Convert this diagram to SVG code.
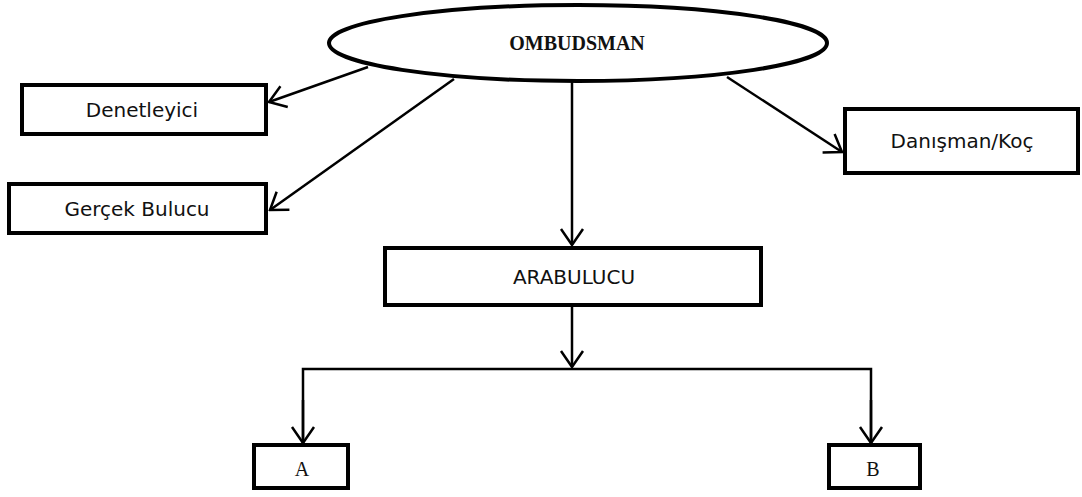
<svg xmlns="http://www.w3.org/2000/svg" width="1082" height="497" viewBox="0 0 1082 497">
<style>
.box{fill:#fff;stroke:#000;stroke-width:4}
.lbl{font-family:"DejaVu Sans",Verdana,sans-serif;font-size:20px;fill:#111;text-anchor:middle}
.ser{font-family:"Liberation Serif","Times New Roman",serif;font-size:20px;fill:#111;text-anchor:middle}
.con{fill:none;stroke:#000;stroke-width:2.5}
</style>
<defs>
<marker id="ah" markerUnits="userSpaceOnUse" viewBox="-2 -2 20 26" refX="16" refY="11" markerWidth="20" markerHeight="26" orient="auto">
<path d="M0,0 L16,11 L0,22" fill="none" stroke="#000" stroke-width="2.5"/>
</marker>
</defs>
<g id="connectors">
<line class="con" x1="368" y1="67" x2="269" y2="102" marker-end="url(#ah)"/>
<line class="con" x1="454" y1="79" x2="270" y2="210" marker-end="url(#ah)"/>
<line class="con" x1="727" y1="77" x2="842" y2="152" marker-end="url(#ah)"/>
<line class="con" x1="572" y1="82" x2="572" y2="245" marker-end="url(#ah)"/>
<line class="con" x1="572" y1="307" x2="572" y2="367" marker-end="url(#ah)"/>
<polyline class="con" points="303,443 303,369 871,369 871,443" fill="none"/>
<line class="con" x1="303" y1="400" x2="303" y2="443" marker-end="url(#ah)"/>
<line class="con" x1="871" y1="400" x2="871" y2="443" marker-end="url(#ah)"/>
</g>
<g id="ombudsman">
<ellipse class="box" cx="578" cy="43" rx="249" ry="38"/>
<text class="ser" x="577" y="50" font-weight="bold" style="font-size:20px">OMBUDSMAN</text>
</g>
<g id="denetleyici">
<rect class="box" x="22" y="85" width="244" height="49"/>
<text class="lbl" x="142" y="117">Denetleyici</text>
</g>
<g id="gercek-bulucu">
<rect class="box" x="9" y="184" width="257" height="49"/>
<text class="lbl" x="137" y="216">Gerçek Bulucu</text>
</g>
<g id="danisman">
<rect class="box" x="845" y="109" width="233" height="64"/>
<text class="lbl" x="962" y="148">Danışman/Koç</text>
</g>
<g id="arabulucu">
<rect class="box" x="385" y="248" width="376" height="57"/>
<text class="lbl" x="574" y="284">ARABULUCU</text>
</g>
<g id="a">
<rect class="box" x="254" y="445" width="94" height="43"/>
<text class="ser" x="302" y="476">A</text>
</g>
<g id="b">
<rect class="box" x="829" y="445" width="91" height="43"/>
<text class="ser" x="873" y="476">B</text>
</g>
</svg>
